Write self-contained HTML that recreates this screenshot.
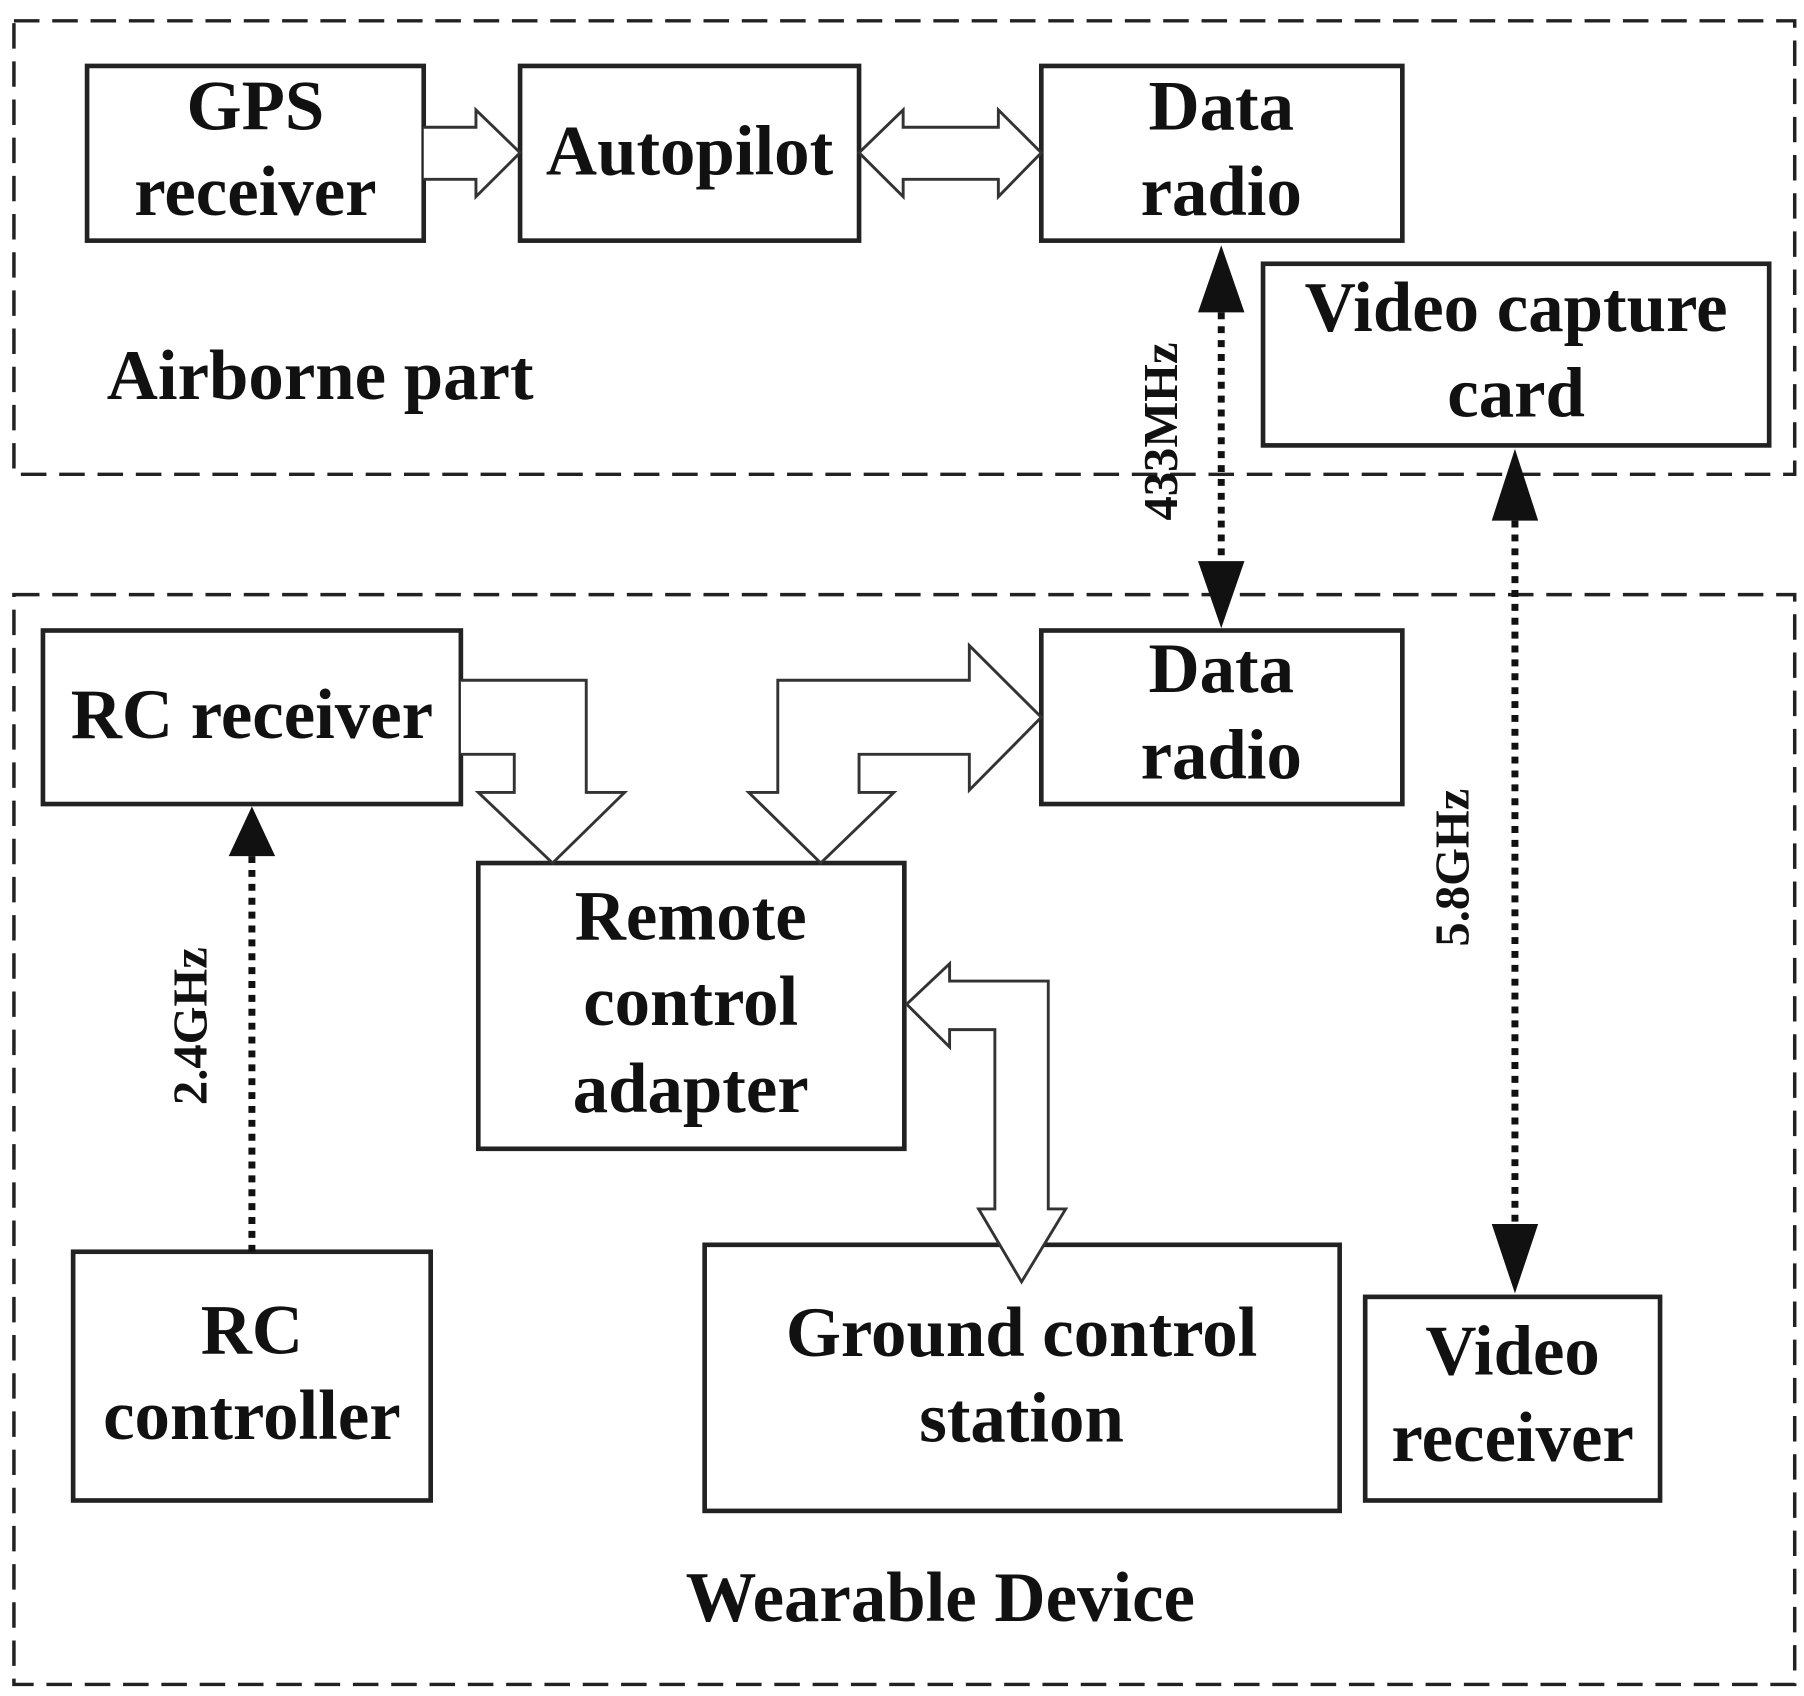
<!DOCTYPE html>
<html><head><meta charset="utf-8"><style>
html,body{margin:0;padding:0;background:#fff;}
svg{display:block;}
text{font-family:"Liberation Serif",serif;font-weight:bold;fill:#111;}
</style></head><body>
<svg width="1804" height="1696" viewBox="0 0 1554 1466" preserveAspectRatio="none" xmlns="http://www.w3.org/2000/svg">
<g fill="none" stroke="#222" stroke-width="3" stroke-dasharray="22,11">
<rect x="12" y="18" width="1534" height="392"/>
<rect x="12" y="514" width="1534" height="942"/>
</g>
<g fill="#fff" stroke="#222" stroke-width="4">
<rect x="75" y="57" width="290" height="151"/>
<rect x="448" y="57" width="292" height="151"/>
<rect x="897" y="57" width="311" height="151"/>
<rect x="1088" y="228" width="436" height="157"/>
<rect x="897" y="545" width="311" height="150"/>
<rect x="37" y="545" width="360" height="150"/>
<rect x="412" y="746" width="367" height="247"/>
<rect x="63" y="1082" width="308" height="215"/>
<rect x="607" y="1076" width="547" height="230"/>
<rect x="1176" y="1121" width="254" height="176"/>
</g>
<g fill="#fff" stroke="#333" stroke-width="2.5" stroke-linejoin="miter">
<path d="M365,110 L410,110 L410,95 L448,132 L410,170 L410,155 L365,155"/>
<path d="M740,132 L778,95 L778,110 L860,110 L860,95 L897,132 L860,170 L860,155 L778,155 L778,170 Z"/>
<path d="M397,588 L505,588 L505,685 L538,685 L476,746 L412,685 L443,685 L443,652 L397,652"/>
<path d="M897,620 L835,558 L835,588 L670,588 L670,685 L645,685 L707,746 L770,685 L740,685 L740,652 L835,652 L835,683 Z"/>
<path d="M781,868 L818,833 L818,848 L903,848 L903,1045 L918,1045 L880,1108 L843,1045 L857,1045 L857,890 L818,890 L818,905 Z"/>
</g>
<g stroke="#111" stroke-width="6" stroke-dasharray="6,6" fill="none">
<line x1="1052" y1="270" x2="1052" y2="487"/>
<line x1="1305" y1="450" x2="1305" y2="1058"/>
<line x1="217" y1="740" x2="217" y2="1082"/>
</g>
<g fill="#111">
<path d="M1052,212 L1072,270 L1032,270 Z"/>
<path d="M1052,543 L1072,485 L1032,485 Z"/>
<path d="M1305,388 L1325,450 L1285,450 Z"/>
<path d="M1305,1118 L1325,1058 L1285,1058 Z"/>
<path d="M217,697 L237,740 L197,740 Z"/>
</g>
<g font-size="61" text-anchor="middle">
<text x="220" y="112">GPS</text>
<text x="220" y="186">receiver</text>
<text x="594" y="151">Autopilot</text>
<text x="1052" y="112">Data</text>
<text x="1052" y="186">radio</text>
<text x="1306" y="286">Video capture</text>
<text x="1306" y="360">card</text>
<text x="1052" y="598">Data</text>
<text x="1052" y="673">radio</text>
<text x="217" y="638">RC receiver</text>
<text x="595" y="812">Remote</text>
<text x="595" y="886">control</text>
<text x="595" y="961">adapter</text>
<text x="217" y="1170">RC</text>
<text x="217" y="1244">controller</text>
<text x="880" y="1172">Ground control</text>
<text x="880" y="1246">station</text>
<text x="1303" y="1188">Video</text>
<text x="1303" y="1263">receiver</text>
<text x="810" y="1401">Wearable Device</text>
</g>
<text x="92" y="345" font-size="61">Airborne part</text>
<g font-size="42" text-anchor="middle">
<text transform="translate(1014,373) rotate(-90)">433MHz</text>
<text transform="translate(1265,750) rotate(-90)">5.8GHz</text>
<text transform="translate(178,887) rotate(-90)">2.4GHz</text>
</g>
</svg>
</body></html>
